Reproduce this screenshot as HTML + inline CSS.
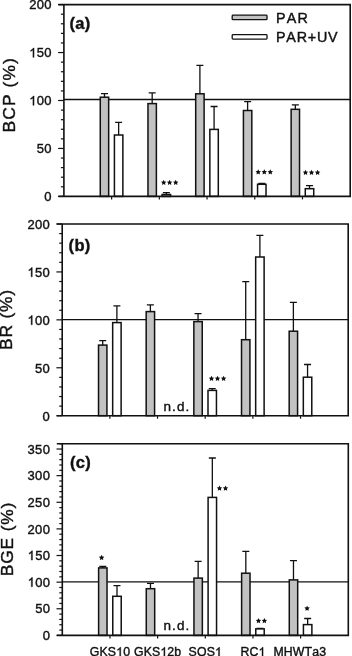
<!DOCTYPE html><html><head><meta charset="utf-8"><title>chart</title><style>
html,body{margin:0;padding:0;background:#fff;width:352px;height:656px;overflow:hidden}
svg{display:block;will-change:transform;filter:blur(0.3px)}text{font-family:"Liberation Sans",sans-serif;fill:#111;stroke:#111;stroke-width:0.4px;font-kerning:none}
.h{fill-opacity:0;stroke-opacity:0}
</style></head><body>
<svg width="352" height="656" viewBox="0 0 352 656">
<g><line x1="63.9" y1="99.5" x2="350.2" y2="99.5" stroke="#111" stroke-width="1.3"/><path d="M104.47,97.20V93.70M100.97,93.70H107.97" stroke="#111" stroke-width="1.3" fill="none"/><rect x="100.27" y="97.20" width="8.40" height="99.20" fill="#c2c2c2" stroke="#111" stroke-width="1.5"/><path d="M118.64,135.00V122.30M115.14,122.30H122.14" stroke="#111" stroke-width="1.3" fill="none"/><rect x="114.42" y="135.00" width="8.45" height="61.40" fill="#fff" stroke="#111" stroke-width="1.5"/><line x1="111.62" y1="196.4" x2="111.62" y2="199.4" stroke="#111" stroke-width="1.2"/><path d="M152.18,103.60V92.80M148.68,92.80H155.68" stroke="#111" stroke-width="1.3" fill="none"/><rect x="147.98" y="103.60" width="8.40" height="92.80" fill="#c2c2c2" stroke="#111" stroke-width="1.5"/><path d="M166.36,194.50V192.60M162.86,192.60H169.86" stroke="#111" stroke-width="1.3" fill="none"/><rect x="162.13" y="194.50" width="8.45" height="1.90" fill="#fff" stroke="#111" stroke-width="1.5"/><line x1="159.33" y1="196.4" x2="159.33" y2="199.4" stroke="#111" stroke-width="1.2"/><path d="M199.90,93.80V65.40M196.40,65.40H203.40" stroke="#111" stroke-width="1.3" fill="none"/><rect x="195.70" y="93.80" width="8.40" height="102.60" fill="#c2c2c2" stroke="#111" stroke-width="1.5"/><path d="M214.08,129.40V106.50M210.58,106.50H217.58" stroke="#111" stroke-width="1.3" fill="none"/><rect x="209.85" y="129.40" width="8.45" height="67.00" fill="#fff" stroke="#111" stroke-width="1.5"/><line x1="207.05" y1="196.4" x2="207.05" y2="199.4" stroke="#111" stroke-width="1.2"/><path d="M247.62,110.50V101.70M244.12,101.70H251.12" stroke="#111" stroke-width="1.3" fill="none"/><rect x="243.42" y="110.50" width="8.40" height="85.90" fill="#c2c2c2" stroke="#111" stroke-width="1.5"/><path d="M261.79,184.30V183.30M258.29,183.30H265.29" stroke="#111" stroke-width="1.3" fill="none"/><rect x="257.57" y="184.30" width="8.45" height="12.10" fill="#fff" stroke="#111" stroke-width="1.5"/><line x1="254.77" y1="196.4" x2="254.77" y2="199.4" stroke="#111" stroke-width="1.2"/><path d="M295.33,109.30V104.80M291.83,104.80H298.83" stroke="#111" stroke-width="1.3" fill="none"/><rect x="291.13" y="109.30" width="8.40" height="87.10" fill="#c2c2c2" stroke="#111" stroke-width="1.5"/><path d="M309.51,188.70V185.60M306.01,185.60H313.01" stroke="#111" stroke-width="1.3" fill="none"/><rect x="305.28" y="188.70" width="8.45" height="7.70" fill="#fff" stroke="#111" stroke-width="1.5"/><line x1="302.48" y1="196.4" x2="302.48" y2="199.4" stroke="#111" stroke-width="1.2"/><line x1="58.10" y1="196.40" x2="63.9" y2="196.40" stroke="#111" stroke-width="1.2"/><line x1="60.90" y1="186.81" x2="63.9" y2="186.81" stroke="#111" stroke-width="1.2"/><line x1="60.90" y1="177.22" x2="63.9" y2="177.22" stroke="#111" stroke-width="1.2"/><line x1="60.90" y1="167.63" x2="63.9" y2="167.63" stroke="#111" stroke-width="1.2"/><line x1="60.90" y1="158.04" x2="63.9" y2="158.04" stroke="#111" stroke-width="1.2"/><line x1="58.10" y1="148.45" x2="63.9" y2="148.45" stroke="#111" stroke-width="1.2"/><line x1="60.90" y1="138.86" x2="63.9" y2="138.86" stroke="#111" stroke-width="1.2"/><line x1="60.90" y1="129.27" x2="63.9" y2="129.27" stroke="#111" stroke-width="1.2"/><line x1="60.90" y1="119.68" x2="63.9" y2="119.68" stroke="#111" stroke-width="1.2"/><line x1="60.90" y1="110.09" x2="63.9" y2="110.09" stroke="#111" stroke-width="1.2"/><line x1="58.10" y1="100.50" x2="63.9" y2="100.50" stroke="#111" stroke-width="1.2"/><line x1="60.90" y1="90.91" x2="63.9" y2="90.91" stroke="#111" stroke-width="1.2"/><line x1="60.90" y1="81.32" x2="63.9" y2="81.32" stroke="#111" stroke-width="1.2"/><line x1="60.90" y1="71.73" x2="63.9" y2="71.73" stroke="#111" stroke-width="1.2"/><line x1="60.90" y1="62.14" x2="63.9" y2="62.14" stroke="#111" stroke-width="1.2"/><line x1="58.10" y1="52.55" x2="63.9" y2="52.55" stroke="#111" stroke-width="1.2"/><line x1="60.90" y1="42.96" x2="63.9" y2="42.96" stroke="#111" stroke-width="1.2"/><line x1="60.90" y1="33.37" x2="63.9" y2="33.37" stroke="#111" stroke-width="1.2"/><line x1="60.90" y1="23.78" x2="63.9" y2="23.78" stroke="#111" stroke-width="1.2"/><line x1="60.90" y1="14.19" x2="63.9" y2="14.19" stroke="#111" stroke-width="1.2"/><line x1="58.10" y1="4.60" x2="63.9" y2="4.60" stroke="#111" stroke-width="1.2"/><path d="M58.40,4.6 H350.2 V196.4 H58.40 M63.9,4.6 V196.4" fill="none" stroke="#111" stroke-width="1.6"/><text id="t1" x="51.80" y="201.20" font-size="13" text-anchor="end" letter-spacing="0.3">0</text><text id="t2" x="51.80" y="153.25" font-size="13" text-anchor="end" letter-spacing="0.3">50</text><text id="t3" x="51.80" y="105.30" font-size="13" text-anchor="end" letter-spacing="0.3"><tspan class="h">1</tspan>00</text><text id="t4" x="51.80" y="57.35" font-size="13" text-anchor="end" letter-spacing="0.3"><tspan class="h">1</tspan>50</text><text id="t5" x="51.80" y="9.40" font-size="13" text-anchor="end" letter-spacing="0.3">200</text><text id="t6" x="69.50" y="28.70" font-size="16.5" letter-spacing="0.3" font-weight="bold">(a)</text><text id="t7" x="0.00" y="0.00" font-size="17.4" letter-spacing="1.1" transform="translate(14.6,132.4) rotate(-90)">BCP (%)</text><g fill="#111"><polygon points="163.70,179.75 164.55,181.43 166.41,181.72 165.08,183.05 165.38,184.91 163.70,184.05 162.02,184.91 162.32,183.05 160.99,181.72 162.85,181.43"/><polygon points="169.60,179.75 170.45,181.43 172.31,181.72 170.98,183.05 171.28,184.91 169.60,184.05 167.92,184.91 168.22,183.05 166.89,181.72 168.75,181.43"/><polygon points="175.70,179.75 176.55,181.43 178.41,181.72 177.08,183.05 177.38,184.91 175.70,184.05 174.02,184.91 174.32,183.05 172.99,181.72 174.85,181.43"/><polygon points="258.20,169.25 259.05,170.93 260.91,171.22 259.58,172.55 259.88,174.41 258.20,173.55 256.52,174.41 256.82,172.55 255.49,171.22 257.35,170.93"/><polygon points="264.30,169.25 265.15,170.93 267.01,171.22 265.68,172.55 265.98,174.41 264.30,173.55 262.62,174.41 262.92,172.55 261.59,171.22 263.45,170.93"/><polygon points="270.30,169.25 271.15,170.93 273.01,171.22 271.68,172.55 271.98,174.41 270.30,173.55 268.62,174.41 268.92,172.55 267.59,171.22 269.45,170.93"/><polygon points="305.50,169.75 306.35,171.43 308.21,171.72 306.88,173.05 307.18,174.91 305.50,174.05 303.82,174.91 304.12,173.05 302.79,171.72 304.65,171.43"/><polygon points="311.50,169.75 312.35,171.43 314.21,171.72 312.88,173.05 313.18,174.91 311.50,174.05 309.82,174.91 310.12,173.05 308.79,171.72 310.65,171.43"/><polygon points="317.60,169.75 318.45,171.43 320.31,171.72 318.98,173.05 319.28,174.91 317.60,174.05 315.92,174.91 316.22,173.05 314.89,171.72 316.75,171.43"/></g></g>
<g><line x1="62.2" y1="319.7" x2="348.2" y2="319.7" stroke="#111" stroke-width="1.3"/><path d="M102.72,345.10V340.70M99.22,340.70H106.22" stroke="#111" stroke-width="1.3" fill="none"/><rect x="98.52" y="345.10" width="8.40" height="70.60" fill="#c2c2c2" stroke="#111" stroke-width="1.5"/><path d="M116.89,322.60V305.90M113.39,305.90H120.39" stroke="#111" stroke-width="1.3" fill="none"/><rect x="112.67" y="322.60" width="8.45" height="93.10" fill="#fff" stroke="#111" stroke-width="1.5"/><line x1="109.87" y1="415.7" x2="109.87" y2="418.7" stroke="#111" stroke-width="1.2"/><path d="M150.38,311.60V304.90M146.88,304.90H153.88" stroke="#111" stroke-width="1.3" fill="none"/><rect x="146.18" y="311.60" width="8.40" height="104.10" fill="#c2c2c2" stroke="#111" stroke-width="1.5"/><line x1="157.53" y1="415.7" x2="157.53" y2="418.7" stroke="#111" stroke-width="1.2"/><path d="M198.05,321.60V313.70M194.55,313.70H201.55" stroke="#111" stroke-width="1.3" fill="none"/><rect x="193.85" y="321.60" width="8.40" height="94.10" fill="#c2c2c2" stroke="#111" stroke-width="1.5"/><path d="M212.22,390.40V388.60M208.72,388.60H215.72" stroke="#111" stroke-width="1.3" fill="none"/><rect x="208.00" y="390.40" width="8.45" height="25.30" fill="#fff" stroke="#111" stroke-width="1.5"/><line x1="205.20" y1="415.7" x2="205.20" y2="418.7" stroke="#111" stroke-width="1.2"/><path d="M245.72,339.70V281.60M242.22,281.60H249.22" stroke="#111" stroke-width="1.3" fill="none"/><rect x="241.52" y="339.70" width="8.40" height="76.00" fill="#c2c2c2" stroke="#111" stroke-width="1.5"/><path d="M259.89,257.00V235.40M256.39,235.40H263.39" stroke="#111" stroke-width="1.3" fill="none"/><rect x="255.67" y="257.00" width="8.45" height="158.70" fill="#fff" stroke="#111" stroke-width="1.5"/><line x1="252.87" y1="415.7" x2="252.87" y2="418.7" stroke="#111" stroke-width="1.2"/><path d="M293.38,331.20V302.30M289.88,302.30H296.88" stroke="#111" stroke-width="1.3" fill="none"/><rect x="289.18" y="331.20" width="8.40" height="84.50" fill="#c2c2c2" stroke="#111" stroke-width="1.5"/><path d="M307.56,377.20V364.50M304.06,364.50H311.06" stroke="#111" stroke-width="1.3" fill="none"/><rect x="303.33" y="377.20" width="8.45" height="38.50" fill="#fff" stroke="#111" stroke-width="1.5"/><line x1="300.53" y1="415.7" x2="300.53" y2="418.7" stroke="#111" stroke-width="1.2"/><line x1="56.40" y1="415.70" x2="62.2" y2="415.70" stroke="#111" stroke-width="1.2"/><line x1="59.20" y1="406.12" x2="62.2" y2="406.12" stroke="#111" stroke-width="1.2"/><line x1="59.20" y1="396.53" x2="62.2" y2="396.53" stroke="#111" stroke-width="1.2"/><line x1="59.20" y1="386.94" x2="62.2" y2="386.94" stroke="#111" stroke-width="1.2"/><line x1="59.20" y1="377.36" x2="62.2" y2="377.36" stroke="#111" stroke-width="1.2"/><line x1="56.40" y1="367.77" x2="62.2" y2="367.77" stroke="#111" stroke-width="1.2"/><line x1="59.20" y1="358.19" x2="62.2" y2="358.19" stroke="#111" stroke-width="1.2"/><line x1="59.20" y1="348.61" x2="62.2" y2="348.61" stroke="#111" stroke-width="1.2"/><line x1="59.20" y1="339.02" x2="62.2" y2="339.02" stroke="#111" stroke-width="1.2"/><line x1="59.20" y1="329.44" x2="62.2" y2="329.44" stroke="#111" stroke-width="1.2"/><line x1="56.40" y1="319.85" x2="62.2" y2="319.85" stroke="#111" stroke-width="1.2"/><line x1="59.20" y1="310.26" x2="62.2" y2="310.26" stroke="#111" stroke-width="1.2"/><line x1="59.20" y1="300.68" x2="62.2" y2="300.68" stroke="#111" stroke-width="1.2"/><line x1="59.20" y1="291.10" x2="62.2" y2="291.10" stroke="#111" stroke-width="1.2"/><line x1="59.20" y1="281.51" x2="62.2" y2="281.51" stroke="#111" stroke-width="1.2"/><line x1="56.40" y1="271.93" x2="62.2" y2="271.93" stroke="#111" stroke-width="1.2"/><line x1="59.20" y1="262.34" x2="62.2" y2="262.34" stroke="#111" stroke-width="1.2"/><line x1="59.20" y1="252.75" x2="62.2" y2="252.75" stroke="#111" stroke-width="1.2"/><line x1="59.20" y1="243.17" x2="62.2" y2="243.17" stroke="#111" stroke-width="1.2"/><line x1="59.20" y1="233.59" x2="62.2" y2="233.59" stroke="#111" stroke-width="1.2"/><line x1="56.40" y1="224.00" x2="62.2" y2="224.00" stroke="#111" stroke-width="1.2"/><path d="M56.70,224.0 H348.2 V415.7 H56.70 M62.2,224.0 V415.7" fill="none" stroke="#111" stroke-width="1.6"/><text id="t8" x="50.00" y="420.60" font-size="13" text-anchor="end" letter-spacing="0.3">0</text><text id="t9" x="50.00" y="372.67" font-size="13" text-anchor="end" letter-spacing="0.3">50</text><text id="t10" x="50.00" y="324.75" font-size="13" text-anchor="end" letter-spacing="0.3"><tspan class="h">1</tspan>00</text><text id="t11" x="50.00" y="276.82" font-size="13" text-anchor="end" letter-spacing="0.3"><tspan class="h">1</tspan>50</text><text id="t12" x="50.00" y="228.90" font-size="13" text-anchor="end" letter-spacing="0.3">200</text><text id="t13" x="68.60" y="251.30" font-size="16.5" letter-spacing="0.3" font-weight="bold">(b)</text><text id="t14" x="0.00" y="0.00" font-size="17.4" letter-spacing="0.8" transform="translate(12.2,350.0) rotate(-90)">BR (%)</text><g fill="#111"><polygon points="211.50,375.75 212.35,377.43 214.21,377.72 212.88,379.05 213.18,380.91 211.50,380.05 209.82,380.91 210.12,379.05 208.79,377.72 210.65,377.43"/><polygon points="217.50,375.75 218.35,377.43 220.21,377.72 218.88,379.05 219.18,380.91 217.50,380.05 215.82,380.91 216.12,379.05 214.79,377.72 216.65,377.43"/><polygon points="223.60,375.75 224.45,377.43 226.31,377.72 224.98,379.05 225.28,380.91 223.60,380.05 221.92,380.91 222.22,379.05 220.89,377.72 222.75,377.43"/></g><text id="t15" x="163.43" y="410.70" font-size="13.5" letter-spacing="1.1">n.d.</text></g>
<g><line x1="62.3" y1="581.9" x2="348.3" y2="581.9" stroke="#111" stroke-width="1.3"/><path d="M102.82,567.90V566.30M99.32,566.30H106.32" stroke="#111" stroke-width="1.3" fill="none"/><rect x="98.62" y="567.90" width="8.40" height="67.50" fill="#c2c2c2" stroke="#111" stroke-width="1.5"/><path d="M116.99,596.30V585.60M113.49,585.60H120.49" stroke="#111" stroke-width="1.3" fill="none"/><rect x="112.77" y="596.30" width="8.45" height="39.10" fill="#fff" stroke="#111" stroke-width="1.5"/><line x1="109.97" y1="635.4" x2="109.97" y2="638.4" stroke="#111" stroke-width="1.2"/><path d="M150.48,588.70V583.30M146.98,583.30H153.98" stroke="#111" stroke-width="1.3" fill="none"/><rect x="146.28" y="588.70" width="8.40" height="46.70" fill="#c2c2c2" stroke="#111" stroke-width="1.5"/><line x1="157.63" y1="635.4" x2="157.63" y2="638.4" stroke="#111" stroke-width="1.2"/><path d="M198.15,578.10V561.40M194.65,561.40H201.65" stroke="#111" stroke-width="1.3" fill="none"/><rect x="193.95" y="578.10" width="8.40" height="57.30" fill="#c2c2c2" stroke="#111" stroke-width="1.5"/><path d="M212.33,497.40V458.00M208.83,458.00H215.83" stroke="#111" stroke-width="1.3" fill="none"/><rect x="208.10" y="497.40" width="8.45" height="138.00" fill="#fff" stroke="#111" stroke-width="1.5"/><line x1="205.30" y1="635.4" x2="205.30" y2="638.4" stroke="#111" stroke-width="1.2"/><path d="M245.82,573.20V551.40M242.32,551.40H249.32" stroke="#111" stroke-width="1.3" fill="none"/><rect x="241.62" y="573.20" width="8.40" height="62.20" fill="#c2c2c2" stroke="#111" stroke-width="1.5"/><path d="M259.99,628.90V628.30M256.49,628.30H263.49" stroke="#111" stroke-width="1.3" fill="none"/><rect x="255.77" y="628.90" width="8.45" height="6.50" fill="#fff" stroke="#111" stroke-width="1.5"/><line x1="252.97" y1="635.4" x2="252.97" y2="638.4" stroke="#111" stroke-width="1.2"/><path d="M293.48,579.90V560.60M289.98,560.60H296.98" stroke="#111" stroke-width="1.3" fill="none"/><rect x="289.28" y="579.90" width="8.40" height="55.50" fill="#c2c2c2" stroke="#111" stroke-width="1.5"/><path d="M307.66,624.60V618.50M304.16,618.50H311.16" stroke="#111" stroke-width="1.3" fill="none"/><rect x="303.43" y="624.60" width="8.45" height="10.80" fill="#fff" stroke="#111" stroke-width="1.5"/><line x1="300.63" y1="635.4" x2="300.63" y2="638.4" stroke="#111" stroke-width="1.2"/><line x1="56.50" y1="635.40" x2="62.3" y2="635.40" stroke="#111" stroke-width="1.2"/><line x1="59.30" y1="630.07" x2="62.3" y2="630.07" stroke="#111" stroke-width="1.2"/><line x1="59.30" y1="624.75" x2="62.3" y2="624.75" stroke="#111" stroke-width="1.2"/><line x1="59.30" y1="619.42" x2="62.3" y2="619.42" stroke="#111" stroke-width="1.2"/><line x1="59.30" y1="614.10" x2="62.3" y2="614.10" stroke="#111" stroke-width="1.2"/><line x1="56.50" y1="608.77" x2="62.3" y2="608.77" stroke="#111" stroke-width="1.2"/><line x1="59.30" y1="603.45" x2="62.3" y2="603.45" stroke="#111" stroke-width="1.2"/><line x1="59.30" y1="598.12" x2="62.3" y2="598.12" stroke="#111" stroke-width="1.2"/><line x1="59.30" y1="592.80" x2="62.3" y2="592.80" stroke="#111" stroke-width="1.2"/><line x1="59.30" y1="587.48" x2="62.3" y2="587.48" stroke="#111" stroke-width="1.2"/><line x1="56.50" y1="582.15" x2="62.3" y2="582.15" stroke="#111" stroke-width="1.2"/><line x1="59.30" y1="576.82" x2="62.3" y2="576.82" stroke="#111" stroke-width="1.2"/><line x1="59.30" y1="571.50" x2="62.3" y2="571.50" stroke="#111" stroke-width="1.2"/><line x1="59.30" y1="566.17" x2="62.3" y2="566.17" stroke="#111" stroke-width="1.2"/><line x1="59.30" y1="560.85" x2="62.3" y2="560.85" stroke="#111" stroke-width="1.2"/><line x1="56.50" y1="555.52" x2="62.3" y2="555.52" stroke="#111" stroke-width="1.2"/><line x1="59.30" y1="550.20" x2="62.3" y2="550.20" stroke="#111" stroke-width="1.2"/><line x1="59.30" y1="544.88" x2="62.3" y2="544.88" stroke="#111" stroke-width="1.2"/><line x1="59.30" y1="539.55" x2="62.3" y2="539.55" stroke="#111" stroke-width="1.2"/><line x1="59.30" y1="534.23" x2="62.3" y2="534.23" stroke="#111" stroke-width="1.2"/><line x1="56.50" y1="528.90" x2="62.3" y2="528.90" stroke="#111" stroke-width="1.2"/><line x1="59.30" y1="523.58" x2="62.3" y2="523.58" stroke="#111" stroke-width="1.2"/><line x1="59.30" y1="518.25" x2="62.3" y2="518.25" stroke="#111" stroke-width="1.2"/><line x1="59.30" y1="512.92" x2="62.3" y2="512.92" stroke="#111" stroke-width="1.2"/><line x1="59.30" y1="507.60" x2="62.3" y2="507.60" stroke="#111" stroke-width="1.2"/><line x1="56.50" y1="502.27" x2="62.3" y2="502.27" stroke="#111" stroke-width="1.2"/><line x1="59.30" y1="496.95" x2="62.3" y2="496.95" stroke="#111" stroke-width="1.2"/><line x1="59.30" y1="491.62" x2="62.3" y2="491.62" stroke="#111" stroke-width="1.2"/><line x1="59.30" y1="486.30" x2="62.3" y2="486.30" stroke="#111" stroke-width="1.2"/><line x1="59.30" y1="480.98" x2="62.3" y2="480.98" stroke="#111" stroke-width="1.2"/><line x1="56.50" y1="475.65" x2="62.3" y2="475.65" stroke="#111" stroke-width="1.2"/><line x1="59.30" y1="470.32" x2="62.3" y2="470.32" stroke="#111" stroke-width="1.2"/><line x1="59.30" y1="465.00" x2="62.3" y2="465.00" stroke="#111" stroke-width="1.2"/><line x1="59.30" y1="459.67" x2="62.3" y2="459.67" stroke="#111" stroke-width="1.2"/><line x1="59.30" y1="454.35" x2="62.3" y2="454.35" stroke="#111" stroke-width="1.2"/><line x1="56.50" y1="449.02" x2="62.3" y2="449.02" stroke="#111" stroke-width="1.2"/><line x1="59.30" y1="443.70" x2="62.3" y2="443.70" stroke="#111" stroke-width="1.2"/><path d="M56.80,443.7 H348.3 V635.4 H56.80 M62.3,443.7 V635.4" fill="none" stroke="#111" stroke-width="1.6"/><text id="t16" x="50.20" y="640.00" font-size="13" text-anchor="end" letter-spacing="0.3">0</text><text id="t17" x="50.20" y="613.38" font-size="13" text-anchor="end" letter-spacing="0.3">50</text><text id="t18" x="50.20" y="586.75" font-size="13" text-anchor="end" letter-spacing="0.3"><tspan class="h">1</tspan>00</text><text id="t19" x="50.20" y="560.12" font-size="13" text-anchor="end" letter-spacing="0.3"><tspan class="h">1</tspan>50</text><text id="t20" x="50.20" y="533.50" font-size="13" text-anchor="end" letter-spacing="0.3">200</text><text id="t21" x="50.20" y="506.88" font-size="13" text-anchor="end" letter-spacing="0.3">250</text><text id="t22" x="50.20" y="480.25" font-size="13" text-anchor="end" letter-spacing="0.3">300</text><text id="t23" x="50.20" y="453.62" font-size="13" text-anchor="end" letter-spacing="0.3">350</text><text id="t24" x="69.90" y="468.40" font-size="16.5" letter-spacing="0.3" font-weight="bold">(c)</text><text id="t25" x="0.00" y="0.00" font-size="17.4" letter-spacing="0.85" transform="translate(12.9,576.3) rotate(-90)">BGE (%)</text><g fill="#111"><polygon points="101.60,554.85 102.45,556.53 104.31,556.82 102.98,558.15 103.28,560.01 101.60,559.15 99.92,560.01 100.22,558.15 98.89,556.82 100.75,556.53"/><polygon points="219.50,485.55 220.35,487.23 222.21,487.52 220.88,488.85 221.18,490.71 219.50,489.85 217.82,490.71 218.12,488.85 216.79,487.52 218.65,487.23"/><polygon points="225.50,485.55 226.35,487.23 228.21,487.52 226.88,488.85 227.18,490.71 225.50,489.85 223.82,490.71 224.12,488.85 222.79,487.52 224.65,487.23"/><polygon points="258.50,618.05 259.35,619.73 261.21,620.02 259.88,621.35 260.18,623.21 258.50,622.35 256.82,623.21 257.12,621.35 255.79,620.02 257.65,619.73"/><polygon points="264.40,618.05 265.25,619.73 267.11,620.02 265.78,621.35 266.08,623.21 264.40,622.35 262.72,623.21 263.02,621.35 261.69,620.02 263.55,619.73"/><polygon points="307.10,605.65 307.95,607.33 309.81,607.62 308.48,608.95 308.78,610.81 307.10,609.95 305.42,610.81 305.72,608.95 304.39,607.62 306.25,607.33"/></g><text id="t26" x="163.53" y="630.40" font-size="13.5" letter-spacing="1.1">n.d.</text></g>
<rect x="232.2" y="15.2" width="34.8" height="4.5" rx="0.8" fill="#c2c2c2" stroke="#111" stroke-width="1.3"/>
<rect x="232.2" y="34.6" width="34.8" height="4.5" rx="0.8" fill="#fff" stroke="#111" stroke-width="1.3"/>
<text id="t27" x="276.00" y="22.80" font-size="14.3" letter-spacing="1.2">PAR</text>
<text id="t28" x="276.00" y="41.70" font-size="14.3" letter-spacing="0.8">PAR+UV</text>
<text id="t29" x="109.97" y="656.10" font-size="12.3" text-anchor="middle" letter-spacing="0.15">GKS<tspan class="h">1</tspan>0</text>
<text id="t30" x="157.63" y="656.10" font-size="12.3" text-anchor="middle" letter-spacing="0.15">GKS<tspan class="h">1</tspan>2b</text>
<text id="t31" x="205.30" y="656.10" font-size="12.3" text-anchor="middle" letter-spacing="0.15">SOS<tspan class="h">1</tspan></text>
<text id="t32" x="252.97" y="656.10" font-size="12.3" text-anchor="middle" letter-spacing="0.15">RC<tspan class="h">1</tspan></text>
<text id="t33" x="299.83" y="656.10" font-size="12.3" text-anchor="middle" letter-spacing="0.15">MHWTa3</text>
<path d="M763 0H583V1147C540 1106 484 1065 415 1024C346 983 284 953 229 932V1106C328 1153 415 1210 489 1276C563 1342 615 1407 646 1472H763Z" transform="translate(29.21,105.30) scale(0.006348,-0.006348)" fill="#111" stroke="#111" stroke-width="63.0"/><path d="M763 0H583V1147C540 1106 484 1065 415 1024C346 983 284 953 229 932V1106C328 1153 415 1210 489 1276C563 1342 615 1407 646 1472H763Z" transform="translate(29.21,57.35) scale(0.006348,-0.006348)" fill="#111" stroke="#111" stroke-width="63.0"/><path d="M763 0H583V1147C540 1106 484 1065 415 1024C346 983 284 953 229 932V1106C328 1153 415 1210 489 1276C563 1342 615 1407 646 1472H763Z" transform="translate(27.41,324.75) scale(0.006348,-0.006348)" fill="#111" stroke="#111" stroke-width="63.0"/><path d="M763 0H583V1147C540 1106 484 1065 415 1024C346 983 284 953 229 932V1106C328 1153 415 1210 489 1276C563 1342 615 1407 646 1472H763Z" transform="translate(27.41,276.82) scale(0.006348,-0.006348)" fill="#111" stroke="#111" stroke-width="63.0"/><path d="M763 0H583V1147C540 1106 484 1065 415 1024C346 983 284 953 229 932V1106C328 1153 415 1210 489 1276C563 1342 615 1407 646 1472H763Z" transform="translate(27.61,586.75) scale(0.006348,-0.006348)" fill="#111" stroke="#111" stroke-width="63.0"/><path d="M763 0H583V1147C540 1106 484 1065 415 1024C346 983 284 953 229 932V1106C328 1153 415 1210 489 1276C563 1342 615 1407 646 1472H763Z" transform="translate(27.61,560.12) scale(0.006348,-0.006348)" fill="#111" stroke="#111" stroke-width="63.0"/><path d="M763 0H583V1147C540 1106 484 1065 415 1024C346 983 284 953 229 932V1106C328 1153 415 1210 489 1276C563 1342 615 1407 646 1472H763Z" transform="translate(116.18,656.10) scale(0.006006,-0.006006)" fill="#111" stroke="#111" stroke-width="66.6"/><path d="M763 0H583V1147C540 1106 484 1065 415 1024C346 983 284 953 229 932V1106C328 1153 415 1210 489 1276C563 1342 615 1407 646 1472H763Z" transform="translate(160.35,656.10) scale(0.006006,-0.006006)" fill="#111" stroke="#111" stroke-width="66.6"/><path d="M763 0H583V1147C540 1106 484 1065 415 1024C346 983 284 953 229 932V1106C328 1153 415 1210 489 1276C563 1342 615 1407 646 1472H763Z" transform="translate(215.01,656.10) scale(0.006006,-0.006006)" fill="#111" stroke="#111" stroke-width="66.6"/><path d="M763 0H583V1147C540 1106 484 1065 415 1024C346 983 284 953 229 932V1106C328 1153 415 1210 489 1276C563 1342 615 1407 646 1472H763Z" transform="translate(258.50,656.10) scale(0.006006,-0.006006)" fill="#111" stroke="#111" stroke-width="66.6"/>
</svg></body></html>
